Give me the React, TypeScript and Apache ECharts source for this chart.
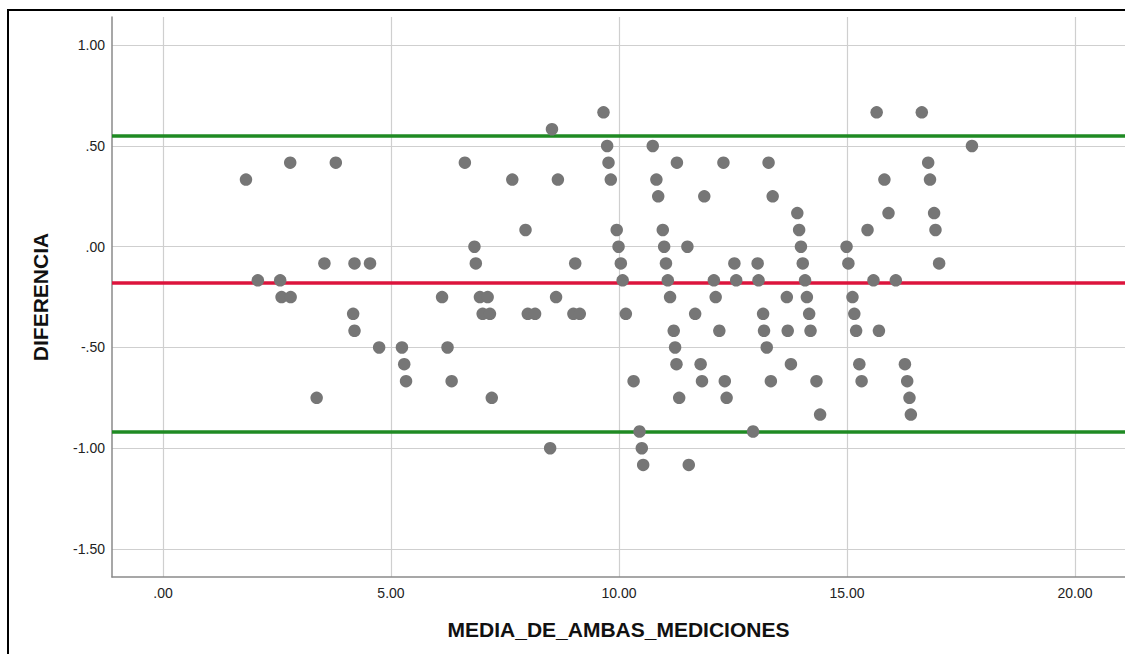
import React, { useEffect, useRef } from "react";
import * as echarts from "echarts";

const xValues: number[] = [
  1.82, 2.79, 3.79, 3.54, 4.2, 4.54, 2.08, 2.57, 2.6, 2.8, 4.17, 4.2, 4.74, 3.37,
  9.66, 8.53, 9.74, 10.74, 6.62, 9.77, 11.27, 7.66, 8.66, 9.82, 10.82, 10.86, 7.95, 9.95,
  10.96, 6.83, 9.99, 10.99, 6.86, 9.04, 10.04, 11.03, 10.08, 11.07, 6.12, 6.95, 7.12, 8.62,
  11.12, 7.01, 7.17, 8.0, 8.16, 9.0, 9.14, 10.15, 11.2, 5.24, 6.24, 11.23, 5.29, 11.26,
  5.33, 6.33, 10.32, 7.21, 11.32, 10.45, 8.49, 10.5, 10.53,
  15.65, 16.64, 12.29, 13.28, 15.82, 11.87, 13.37, 13.91, 15.91, 13.95, 15.45, 11.5, 13.99,
  14.99, 12.53, 13.04, 14.03, 15.03, 12.08, 12.57, 13.06, 14.08, 15.58, 16.07, 12.12, 13.68,
  14.12, 15.12, 11.67, 13.16, 14.17, 15.16, 12.2, 13.18, 13.7, 14.2, 15.2, 15.7, 13.24,
  11.79, 13.77, 15.27, 16.27, 11.82, 12.32, 13.33, 14.33, 15.32, 16.32, 12.36, 16.37, 14.41,
  16.4, 12.94, 11.53, 17.74, 16.78, 16.82, 16.91, 16.94, 17.02,
];

const yValues: number[] = [
  0.333, 0.417, 0.417, -0.083, -0.083, -0.083, -0.167, -0.167, -0.25, -0.25, -0.333, -0.417, -0.5, -0.75,
  0.667, 0.583, 0.5, 0.5, 0.417, 0.417, 0.417, 0.333, 0.333, 0.333, 0.333, 0.25, 0.083, 0.083,
  0.083, 0, 0, 0, -0.083, -0.083, -0.083, -0.083, -0.167, -0.167, -0.25, -0.25, -0.25, -0.25,
  -0.25, -0.333, -0.333, -0.333, -0.333, -0.333, -0.333, -0.333, -0.417, -0.5, -0.5, -0.5, -0.583, -0.583,
  -0.667, -0.667, -0.667, -0.75, -0.75, -0.917, -1.0, -1.0, -1.083,
  0.667, 0.667, 0.417, 0.417, 0.333, 0.25, 0.25, 0.167, 0.167, 0.083, 0.083, 0, 0,
  0, -0.083, -0.083, -0.083, -0.083, -0.167, -0.167, -0.167, -0.167, -0.167, -0.167, -0.25, -0.25,
  -0.25, -0.25, -0.333, -0.333, -0.333, -0.333, -0.417, -0.417, -0.417, -0.417, -0.417, -0.417, -0.5,
  -0.583, -0.583, -0.583, -0.583, -0.667, -0.667, -0.667, -0.667, -0.667, -0.667, -0.75, -0.75, -0.833,
  -0.833, -0.917, -1.083, 0.5, 0.417, 0.333, 0.167, 0.083, -0.083,
];

const xTicks: number[] = [0, 5, 10, 15, 20];
const yTicks: number[] = [-1.5, -1.0, -0.5, 0, 0.5, 1.0];

const meanDiff = -0.183;
const upperLimit = 0.552;
const lowerLimit = -0.918;

const xTitle = "MEDIA_DE_AMBAS_MEDICIONES";
const yTitle = "DIFERENCIA";

function fmt(v: number): string {
  const s = v.toFixed(2);
  if (s.startsWith("0.")) return s.slice(1);
  if (s.startsWith("-0.")) return "-" + s.slice(2);
  return s;
}

export default function App() {
  const ref = useRef<HTMLDivElement>(null);
  useEffect(() => {
    if (!ref.current) return;
    const chart = echarts.init(ref.current, null, { renderer: "svg" });
    const points = xValues.map((x, i) => [x, yValues[i]]);
    const font = "'Liberation Sans', Arial, sans-serif";
    chart.setOption({
      animation: false,
      backgroundColor: "#ffffff",
      grid: { left: 112, top: 17, right: 0, bottom: 77, containLabel: false },
      graphic: [
        {
          type: "rect",
          shape: { x: 8, y: 10, width: 2000, height: 2000 },
          style: { fill: "none", stroke: "#000000", lineWidth: 2 },
          silent: true,
          z: 100,
        },
      ],
      xAxis: {
        type: "value",
        min: -1.118,
        max: 21.096,
        name: xTitle,
        nameLocation: "middle",
        nameGap: 42,
        nameTextStyle: { fontFamily: font, fontSize: 21, fontWeight: "bold", color: "#111" },
        axisLine: { show: true, onZero: false, lineStyle: { color: "#8a8a8a", width: 1.5 } },
        axisTick: { show: false, customValues: xTicks },
        axisLabel: {
          customValues: xTicks,
          formatter: (v: number) => fmt(v),
          fontFamily: font,
          fontSize: 14,
          color: "#222",
          margin: 9,
        },
        splitLine: { show: true, lineStyle: { color: "#cfcfcf", width: 1.2 } },
      },
      yAxis: {
        type: "value",
        min: -1.639,
        max: 1.14,
        name: yTitle,
        nameLocation: "middle",
        nameRotate: 90,
        nameGap: 61,
        nameTextStyle: { fontFamily: font, fontSize: 21, fontWeight: "bold", color: "#111" },
        axisLine: { show: true, onZero: false, lineStyle: { color: "#8a8a8a", width: 1.5 } },
        axisTick: { show: false, customValues: yTicks },
        axisLabel: {
          customValues: yTicks,
          formatter: (v: number) => fmt(v),
          fontFamily: font,
          fontSize: 14,
          color: "#222",
          margin: 7,
        },
        splitLine: { show: true, lineStyle: { color: "#cfcfcf", width: 1.2 } },
      },
      series: [
        {
          type: "scatter",
          data: points,
          symbol: "circle",
          symbolSize: 12.5,
          itemStyle: { color: "#767676", opacity: 1 },
          z: 3,
          markLine: {
            silent: true,
            symbol: "none",
            label: { show: false },
            animation: false,
            z: 2,
            data: [
              { yAxis: upperLimit, lineStyle: { color: "#1f8a23", width: 3.5, type: "solid" } },
              { yAxis: meanDiff, lineStyle: { color: "#dc143c", width: 3.5, type: "solid" } },
              { yAxis: lowerLimit, lineStyle: { color: "#1f8a23", width: 3.5, type: "solid" } },
            ],
          },
        },
      ],
    });
    return () => chart.dispose();
  }, []);
  return (
    <div
      ref={ref}
      style={{ position: "fixed", left: 0, top: 0, width: 1125, height: 654, background: "#fff" }}
    />
  );
}
